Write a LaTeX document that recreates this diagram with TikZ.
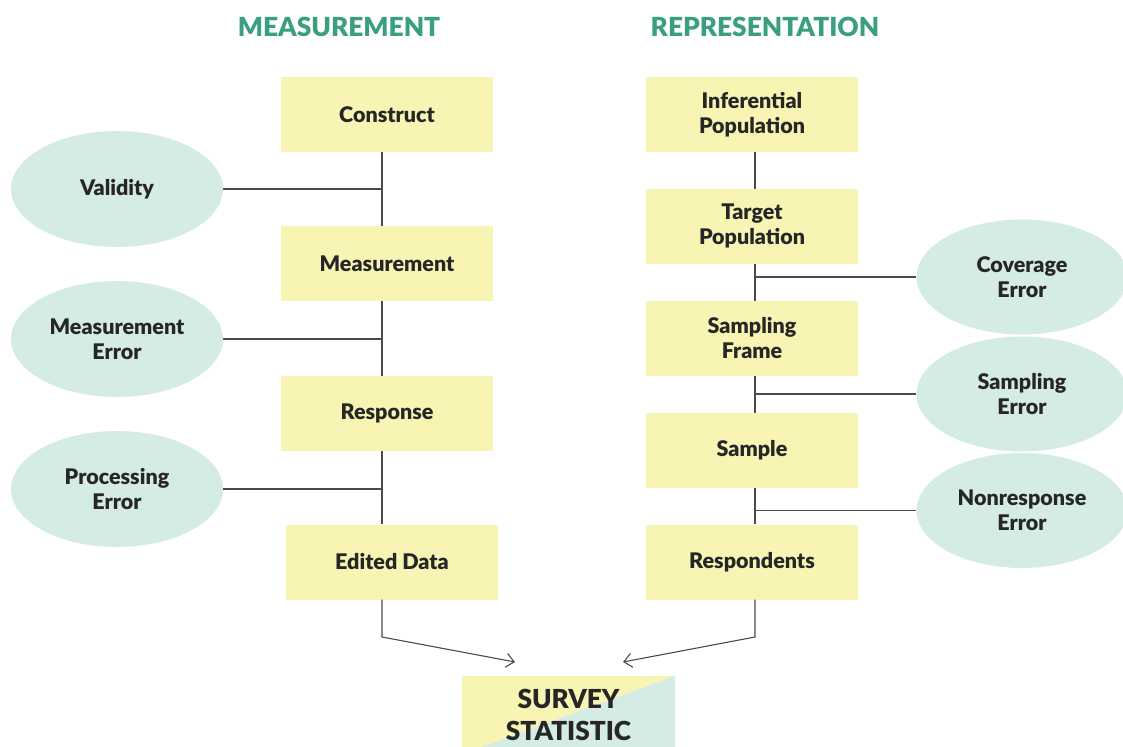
\documentclass[tikz,border=0pt]{standalone}
\usepackage{fontspec}
\setmainfont{Lato}[BoldFont={Lato Black}]
\usepackage{xcolor}
\usepackage{tikz}
\usetikzlibrary{shapes.geometric,arrows.meta,positioning,backgrounds}
\definecolor{boxyellow}{HTML}{F8F4B4}
\definecolor{errteal}{HTML}{D5ECE6}
\definecolor{titlegreen}{HTML}{3A9E80}
\definecolor{linegray}{HTML}{4A4A4A}
\definecolor{inkdark}{HTML}{262626}
\begin{document}
\begin{tikzpicture}[x=1pt,y=-1pt,
    stagebox/.style={rectangle,fill=boxyellow,minimum width=212pt,minimum height=75pt,align=center,text=inkdark,font=\fontsize{21.5}{25}\selectfont\bfseries},
    errnode/.style={ellipse,fill=errteal,minimum width=212pt,minimum height=116pt,align=center,text=inkdark,font=\fontsize{21.5}{25}\selectfont\bfseries},
    coltitle/.style={text=titlegreen,font=\fontsize{26.3}{30}\selectfont\bfseries},
    link/.style={draw=linegray,line width=1.1pt}]
    \useasboundingbox (0,0) rectangle (1123,746);
    \clip (0,0) rectangle (1123,746);

    % titles
    \node[coltitle] (mtitle) at (339,27) {MEASUREMENT};
    \node[coltitle] (rtitle) at (765,27) {REPRESENTATION};

    % measurement side
    \node[stagebox] (construct) at (387,114.5) {Construct};
    \node[stagebox] (measurement) at (387,263.5) {Measurement};
    \node[stagebox] (response) at (387,413) {Response};
    \node[stagebox] (edited) at (392,562) {Edited Data};

    \node[errnode] (validity) at (117,189) {Validity};
    \node[errnode] (measerr) at (117,339) {Measurement\\Error};
    \node[errnode] (procerr) at (117,489) {Processing\\Error};

    % representation side
    \node[stagebox] (inferential) at (752,114.5) {Inferential\\Population};
    \node[stagebox] (target) at (752,226) {Target\\Population};
    \node[stagebox] (frame) at (752,338.5) {Sampling\\Frame};
    \node[stagebox] (sample) at (752,450) {Sample};
    \node[stagebox] (respondents) at (752,562) {Respondents};

    \node[errnode,minimum width=211pt,minimum height=115pt] (coverr) at (1022,277) {Coverage\\Error};
    \node[errnode,minimum width=211pt,minimum height=115pt] (samperr) at (1022,394) {Sampling\\Error};
    \node[errnode,minimum width=211pt,minimum height=115pt] (nonresp) at (1022,510.5) {Nonresponse\\Error};

    % survey statistic
    \node[minimum width=213pt,minimum height=78pt,align=center,text=inkdark,
          font=\fontsize{26.2}{32}\selectfont\bfseries,
          path picture={
            \fill[boxyellow] (path picture bounding box.south west) -- (path picture bounding box.north west) -- (path picture bounding box.north east) -- cycle;
            \fill[errteal] (path picture bounding box.south west) -- (path picture bounding box.south east) -- (path picture bounding box.north east) -- cycle;
          }] (stat) at (568.5,715) {SURVEY\\STATISTIC};

    % spines
    \coordinate (mspine) at (382,0);
    \coordinate (rspine) at (755,0);
    \coordinate (lin) at (515,662);
    \coordinate (rin) at (623,662);

    % connectors
    \begin{scope}[on background layer]
    \draw[link] (construct.south -| mspine) -- (edited.north -| mspine);
    \draw[link] (inferential.south -| rspine) -- (respondents.north -| rspine);
    \end{scope}
    \draw[link] (validity.east) -- (validity.east -| mspine);
    \draw[link] (measerr.east) -- (measerr.east -| mspine);
    \draw[link] (procerr.east) -- (procerr.east -| mspine);

    \draw[link] (coverr.west) -- (coverr.west -| rspine);
    \draw[link] (samperr.west) -- (samperr.west -| rspine);
    \draw[link] (nonresp.west) -- (nonresp.west -| rspine);

    \draw[link,-{Straight Barb[length=8pt,width=14pt]}] (edited.south -| mspine) -- (382,637) -- (lin);
    \draw[link,-{Straight Barb[length=8pt,width=14pt]}] (respondents.south -| rspine) -- (755,637) -- (rin);
\end{tikzpicture}
\end{document}
